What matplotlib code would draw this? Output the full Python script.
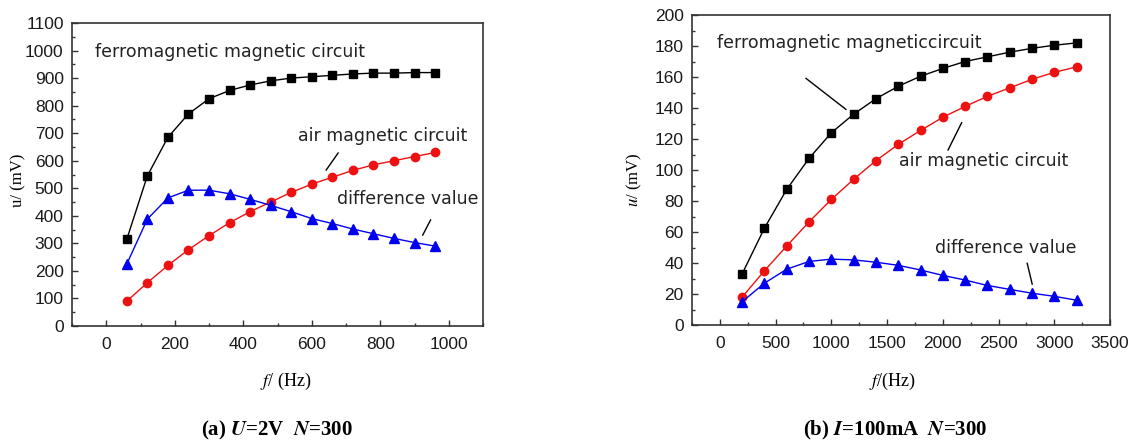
import matplotlib
matplotlib.use("Agg")
import matplotlib.pyplot as plt
from matplotlib.ticker import MultipleLocator

plt.rcParams['font.family'] = ['Liberation Sans', 'DejaVu Sans']
plt.rcParams['mathtext.fontset'] = 'stix'

# ---- panel (a) data ----
f_a = [60, 120, 180, 240, 300, 360, 420, 480, 540, 600, 660, 720, 780, 840, 900, 960]
ferro_a = [315, 545, 685, 770, 825, 855, 875, 890, 900, 905, 910, 915, 918, 918, 920, 920]
air_a = [90, 157, 220, 277, 328, 375, 415, 450, 485, 515, 540, 565, 585, 600, 615, 630]
diff_a = [225, 388, 465, 493, 493, 480, 460, 438, 415, 390, 372, 352, 335, 318, 303, 290]

# ---- panel (b) data ----
f_b = [200, 400, 600, 800, 1000, 1200, 1400, 1600, 1800, 2000, 2200, 2400, 2600, 2800, 3000, 3200]
ferro_b = [33, 62.5, 87.5, 107.5, 124, 136, 146, 154, 160.5, 165.5, 170, 173, 176, 178.5, 180.5, 182]
air_b = [18, 35, 51, 66.5, 81, 94, 106, 116.5, 125.5, 134, 141, 147.5, 153, 158.5, 163, 166.5]
diff_b = [15, 27, 36, 41, 42.5, 42, 40.5, 38.5, 35.5, 32, 29, 25.5, 23, 20.5, 18.5, 16]

labels_a = ["ferromagnetic magnetic circuit", "air magnetic circuit", "difference value"]
labels_b = ["ferromagnetic magneticcircuit", "air magnetic circuit", "difference value"]

BLACK = "#000000"
RED = "#ee1111"
BLUE = "#0000ee"

fig = plt.figure(figsize=(11.32, 4.43), dpi=100)
ax1 = fig.add_axes([72/1132, 1 - 326/443, (483-72)/1132, (326-23)/443])
ax2 = fig.add_axes([692/1132, 1 - 325/443, (1110-692)/1132, (325-15)/443])

def style(ax):
    for s in ax.spines.values():
        s.set_linewidth(1.2)
        s.set_color("#333333")
    ax.tick_params(which='both', direction='in', top=False, right=False,
                   labelsize=12.5, colors="#333333", labelcolor="#1a1a1a")
    ax.tick_params(which='major', length=4, width=1)
    ax.tick_params(which='minor', length=2.5, width=1)
    ax.tick_params(axis='x', pad=8)
    ax.tick_params(axis='y', pad=6)

def plot_series(ax, f, fe, ai, di):
    ax.plot(f, fe, color=BLACK, lw=1, marker='s', ms=5.5, mec=BLACK, mfc=BLACK)
    ax.plot(f, ai, color=RED, lw=1, marker='o', ms=6, mec=RED, mfc=RED)
    ax.plot(f, di, color=BLUE, lw=1, marker='^', ms=7.5, mec=BLUE, mfc=BLUE)

# panel (a)
plot_series(ax1, f_a, ferro_a, air_a, diff_a)
ax1.set_xlim(-100, 1100)
ax1.set_ylim(0, 1100)
ax1.xaxis.set_major_locator(MultipleLocator(200))
ax1.xaxis.set_minor_locator(MultipleLocator(100))
ax1.yaxis.set_major_locator(MultipleLocator(100))
ax1.yaxis.set_minor_locator(MultipleLocator(50))
style(ax1)
tk = dict(fontsize=12.5, family=['DejaVu Sans'], color="#222222")
ax1.text(362, 995, labels_a[0], ha='center', va='center', **tk)
ax1.text(806, 688, labels_a[1], ha='center', va='center', **tk)
ax1.text(881, 461, labels_a[2], ha='center', va='center', **tk)
ax1.plot([677, 642], [628, 566], color=BLACK, lw=1)
ax1.plot([947, 924], [385, 330], color=BLACK, lw=1)
ax1.set_xlabel("$f$/ (Hz)", family=['Liberation Serif'], fontsize=13)
ax1.xaxis.set_label_coords(0.52, -0.148)
ax1.set_ylabel("u/ (mV)", family=['Liberation Serif'], fontsize=12)
ax1.yaxis.set_label_coords(-0.112, 0.48)

# panel (b)
plot_series(ax2, f_b, ferro_b, air_b, diff_b)
ax2.set_xlim(-250, 3500)
ax2.set_ylim(0, 200)
ax2.xaxis.set_major_locator(MultipleLocator(500))
ax2.xaxis.set_minor_locator(MultipleLocator(250))
ax2.yaxis.set_major_locator(MultipleLocator(20))
ax2.yaxis.set_minor_locator(MultipleLocator(10))
style(ax2)
ax2.text(1158, 182, labels_b[0], ha='center', va='center', **tk)
ax2.text(2366, 106, labels_b[1], ha='center', va='center', **tk)
ax2.text(2568, 49.5, labels_b[2], ha='center', va='center', **tk)
ax2.plot([773, 1131], [159.1, 139.1], color=BLACK, lw=1)
ax2.plot([2169, 2047], [130.5, 112.9], color=BLACK, lw=1)
ax2.plot([2757, 2802], [39.8, 26.4], color=BLACK, lw=1)
ax2.set_xlabel("$f$/(Hz)", family=['Liberation Serif'], fontsize=13)
ax2.xaxis.set_label_coords(0.48, -0.148)
ax2.set_ylabel("$u$/ (mV)", family=['Liberation Serif'], fontsize=12)
ax2.yaxis.set_label_coords(-0.115, 0.47)

# captions
cap = dict(family=['Liberation Serif'], fontsize=15, fontweight='bold', ha='center', va='center')
fig.text(277/1132, 1 - 430/443, r"(a) $\mathbfit{U}$=2V  $\mathbfit{N}$=300", **cap)
fig.text(895/1132, 1 - 430/443, r"(b) $\mathbfit{I}$=100mA  $\mathbfit{N}$=300", **cap)

fig.savefig("out.png", dpi=100)
